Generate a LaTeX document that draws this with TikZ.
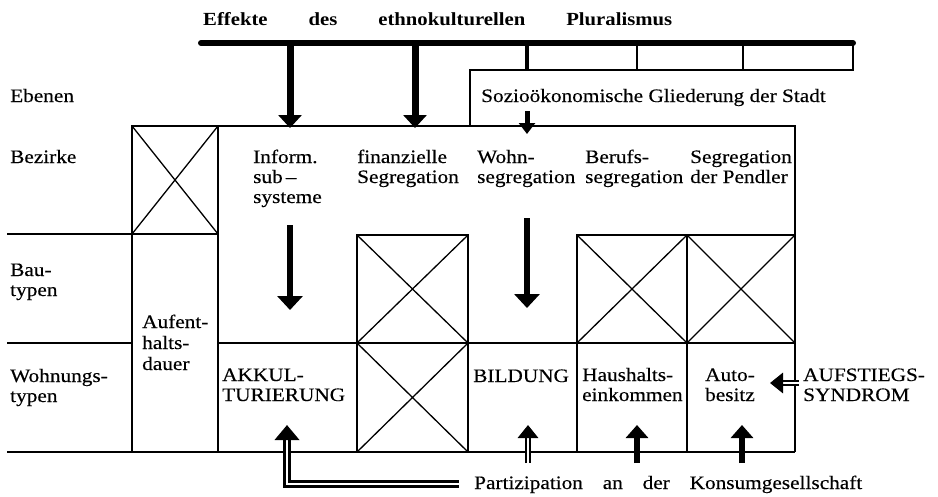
\documentclass[tikz,border=0pt]{standalone}
\usepackage{fontspec}
\setmainfont{Liberation Serif}[FakeStretch=1.12]
\newfontfamily\labfont{Liberation Serif}[FakeStretch=1.12, FakeBold=0.35]
\usetikzlibrary{arrows.meta}
\begin{document}
\begin{tikzpicture}[x=1pt,y=-1pt,
  lab/.style={font=\labfont\fontsize{19}{20}\selectfont, align=left, inner sep=0pt, anchor=base west},
  frame/.style={line width=1.8pt},
  crossln/.style={line width=1.3pt},
  bigarrow/.style={line width=7pt, -{Triangle[width=23pt,length=13pt]}},
  midarrow/.style={line width=6pt, -{Triangle[width=25pt,length=14pt]}},
  smallarrow/.style={line width=5pt, -{Triangle[width=16pt,length=11pt]}},
  uparrow/.style={line width=6pt, -{Triangle[width=22pt,length=13pt]}},
  headonly/.style={line width=4pt, -{Triangle[width=20pt,length=13pt]}},
  dblshaft/.style={double, line width=2pt, double distance=1.6pt},
  dblline/.style={double, line width=3pt, double distance=1.2pt}]
\useasboundingbox (0,0) rectangle (938,496);

% header
\node[inner sep=0pt, anchor=base west, font=\fontsize{18.5}{20}\bfseries] (hdr) at (203,25)
  {\makebox[469pt][s]{Effekte des ethnokulturellen Pluralismus}};

% top bar and small boxes
\coordinate (barL) at (201,43);
\coordinate (barR) at (853,43);
\draw[line width=6pt, line cap=round] (barL) -- (barR);
\draw[frame] (470,126) |- (853,70) -- (barR);
\draw[frame] (637,43) -- (637,70);
\draw[frame] (743,43) -- (743,70);
\draw[line width=4pt] (527,43) -- (527,70);

% socio box text
\node[lab] (socio) at (481,102) {Sozioökonomische Gliederung der Stadt};

% main frame
\draw[frame] (132,126) -- (795,126) -- (795,452);
\draw[frame] (7,452) -- (795,452);
\draw[frame] (132,126) -- (132,452);
\draw[frame] (218,126) -- (218,452);
\draw[frame] (7,234) -- (132,234);
\draw[frame] (7,343) -- (132,343);
\draw[frame] (218,343) -- (795,343);
\draw[frame] (577,235) -- (577,452);
\draw[frame] (687,235) -- (687,452);
% crossed boxes
\foreach \a/\b/\c/\d in {132/126/218/234, 357/235/468/343, 357/343/468/452, 577/235/687/343, 687/235/795/343}{
  \draw[frame] (\a,\b) rectangle (\c,\d);
  \draw[crossln] (\a,\b) -- (\c,\d) (\a,\d) -- (\c,\b);
}

% row labels (anchor = baseline of last line)
\node[lab] (ebenen) at (10,102) {Ebenen};
\node[lab] (bezirke) at (10,163) {Bezirke};
\node[lab] (bau) at (10,296) {Bau-\\typen};
\node[lab] (wohnung) at (10,402) {Wohnungs-\\typen};
\node[lab, font=\labfont\fontsize{19}{21}\selectfont] (aufent) at (142,370) {Aufent-\\halts-\\dauer};

% district texts
\node[lab] (inform) at (253,203) {Inform.\\sub\,–\\systeme};
\node[lab] (finanz) at (357,183) {finanzielle\\Segregation};
\node[lab] (wohnseg) at (477,183) {Wohn-\\segregation};
\node[lab] (berufs) at (585,183) {Berufs-\\segregation};
\node[lab] (pendler) at (690,183) {Segregation\\der Pendler};

% dwelling texts
\node[lab] (akkul) at (222,401) {AKKUL-\\TURIERUNG};
\node[lab] (bildung) at (473,382) {BILDUNG};
\node[lab] (haush) at (582,401) {Haushalts-\\einkommen};
\node[lab, align=center, anchor=base] (auto) at (730,401) {Auto-\\besitz};
\node[lab] (aufst) at (803,401) {AUFSTIEGS-\\SYNDROM};

% bottom text
\node[inner sep=0pt, anchor=base west, font=\labfont\fontsize{19}{20}\selectfont] (partiz) at (474,489)
  {\makebox[388pt][s]{Partizipation an der Konsumgesellschaft}};

% arrows from top bar
\coordinate (t1s) at (290,43);  \coordinate (t1e) at (290,128);
\coordinate (t2s) at (415,43);  \coordinate (t2e) at (415,128);
\draw[bigarrow] (t1s) -- (t1e);
\draw[bigarrow] (t2s) -- (t2e);
\coordinate (s1s) at (527,111); \coordinate (s1e) at (527,134);
\draw[smallarrow] (s1s) -- (s1e);

% middle down arrows
\coordinate (m1s) at (290,225); \coordinate (m1e) at (290,310);
\coordinate (m2s) at (527,218); \coordinate (m2e) at (527,308);
\draw[midarrow] (m1s) -- (m1e);
\draw[midarrow] (m2s) -- (m2e);

% bottom up arrows
\coordinate (b1s) at (528,463); \coordinate (b1m) at (528,438); \coordinate (b1e) at (528,425);
\coordinate (b2s) at (637,463); \coordinate (b2e) at (637,425);
\coordinate (b3s) at (742,463); \coordinate (b3e) at (742,425);
\draw[dblshaft] (b1s) -- (b1m);
\draw[headonly] (b1m) -- (b1e);
\draw[uparrow] (b2s) -- (b2e);
\draw[uparrow] (b3s) -- (b3e);

% participation connector to acculturation
\coordinate (pL) at (459,484);
\coordinate (akC) at (287,484);
\coordinate (akM) at (287,440);
\coordinate (akE) at (287,425);
\draw[dblline] (pL) -- (akC) -- (287,438);
\draw[line width=5pt, -{Triangle[width=24pt,length=15pt]}] (akM) -- (akE);

% upward mobility arrow
\coordinate (asS) at (799,383); \coordinate (asM) at (783,383); \coordinate (asE) at (770,383);
\draw[dblshaft] (asS) -- (asM);
\draw[headonly] (asM) -- (asE);
\end{tikzpicture}
\end{document}
